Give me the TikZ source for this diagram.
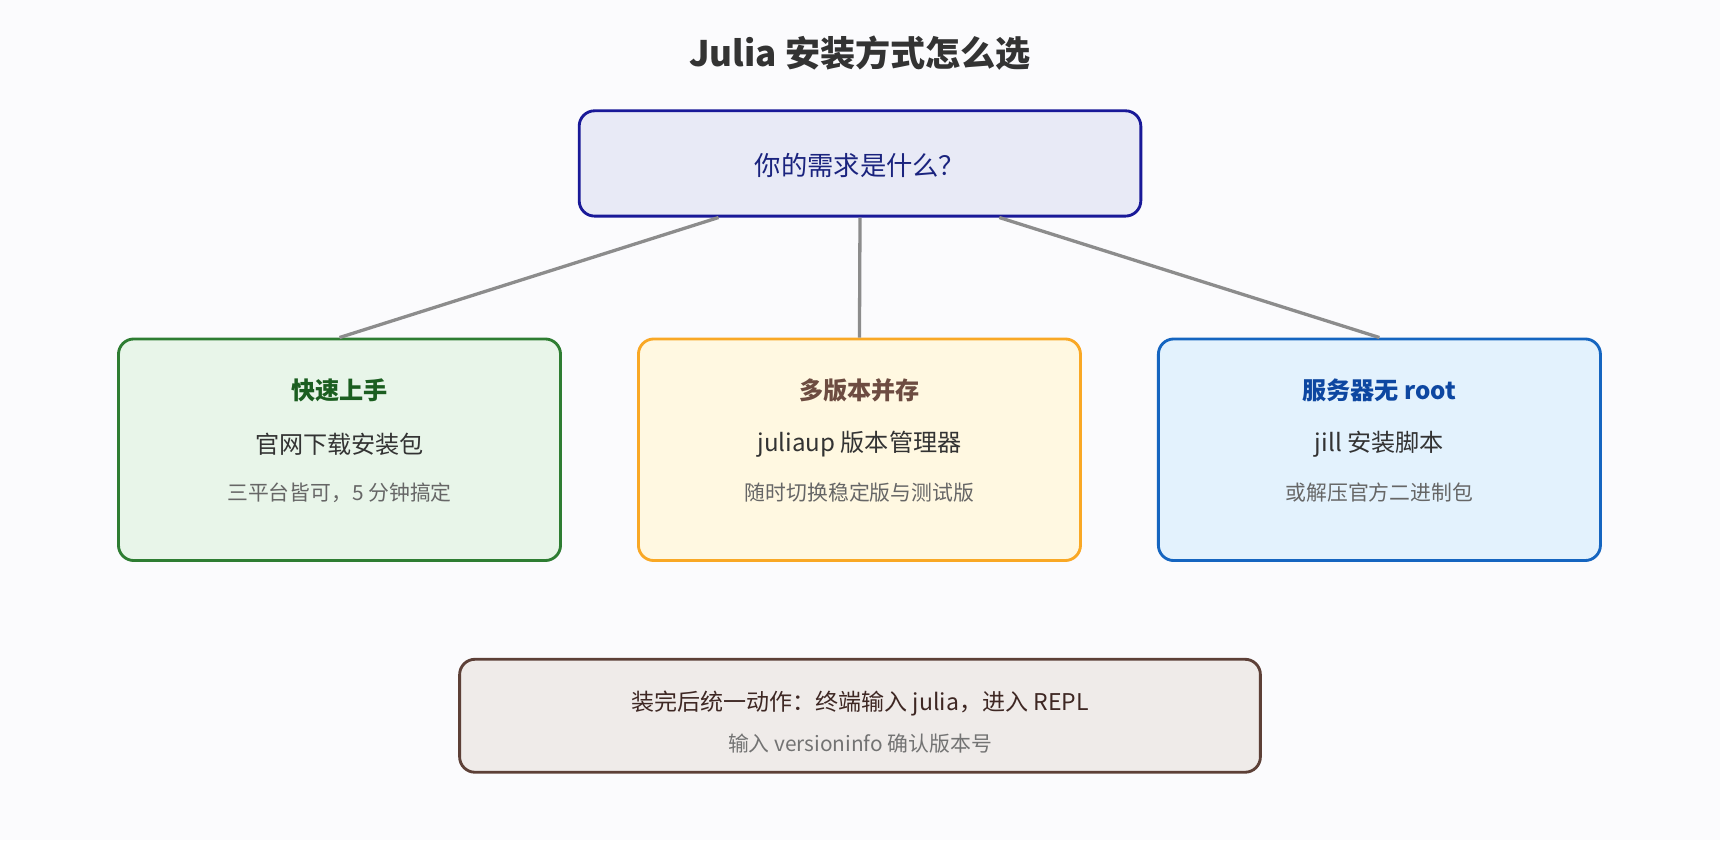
\documentclass[tikz,border=0pt]{standalone}
\usepackage{fontspec}
\setmainfont{Noto Sans CJK SC}
\usetikzlibrary{calc}
\definecolor{bg}{HTML}{FBFBFD}
\begin{document}
\begin{tikzpicture}[x=1pt,y=-1pt,
 box/.style={draw,rounded corners=14pt,line width=2.6pt,inner sep=0pt},
 conn/.style={draw=gray!90,line width=3pt},
 t/.style={inner sep=0pt,anchor=center}]
\useasboundingbox[fill=bg] (0,0) rectangle (1568,766);
\node[t,font=\bfseries\fontsize{32}{38}\selectfont,text=black!80] (title) at (784,48) {Julia 安装方式怎么选};
\node[box,draw=blue!55!black!90,fill={rgb,255:red,232;green,234;blue,246},minimum width=512pt,minimum height=96pt] (q) at (784,149) {};
\node[t,font=\fontsize{24}{28}\selectfont,text={rgb,255:red,26;green,35;blue,126}] (qt) at (784,151) {你的需求是什么？};
% boxes
\foreach \n/\x/\dr/\fl/\tc/\ta/\tb/\tcc in {
 a/309.5/{rgb,255:red,46;green,125;blue,50}/{rgb,255:red,232;green,245;blue,233}/{rgb,255:red,27;green,94;blue,32}/快速上手/官网下载安装包/{三平台皆可，5 分钟搞定},
 b/783.5/{rgb,255:red,249;green,168;blue,37}/{rgb,255:red,255;green,248;blue,225}/{rgb,255:red,109;green,76;blue,65}/多版本并存/juliaup 版本管理器/随时切换稳定版与测试版,
 c/1257.5/{rgb,255:red,21;green,101;blue,192}/{rgb,255:red,227;green,242;blue,253}/{rgb,255:red,13;green,71;blue,161}/服务器无 root/jill 安装脚本/或解压官方二进制包}{
 \node[box,draw=\dr,fill=\fl,minimum width=403pt,minimum height=202pt] (\n) at (\x,410) {};
 \node[t,font=\bfseries\fontsize{22}{26}\selectfont,text=\tc] (\n1) at (\x,356) {\ta};
 \node[t,font=\fontsize{22}{26}\selectfont,text=black!80] (\n2) at (\x,405) {\tb};
 \node[t,font=\fontsize{19}{23}\selectfont,text=black!60] (\n3) at (\x,449) {\tcc};
}
\node[box,draw={rgb,255:red,93;green,64;blue,55},fill={rgb,255:red,239;green,235;blue,233},minimum width=730pt,minimum height=103pt] (f) at (784,652.5) {};
\node[t,font=\fontsize{21}{25}\selectfont,text={rgb,255:red,62;green,39;blue,35}] (f1) at (784,641) {装完后统一动作：终端输入 julia，进入 REPL};
\node[t,font=\fontsize{19}{23}\selectfont,text=black!55] (f2) at (784,678) {输入 versioninfo 确认版本号};
\draw[conn] ($(q.south)+(-129,0)$) -- (a.north);
\draw[conn] (q.south) -- (b.north);
\draw[conn] ($(q.south)+(127,0)$) -- (c.north);
\end{tikzpicture}
\end{document}
